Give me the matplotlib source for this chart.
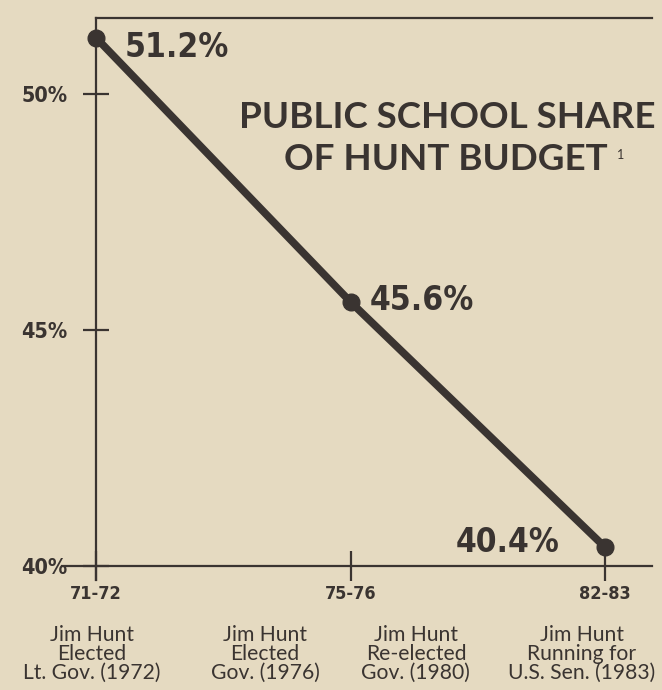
import matplotlib
matplotlib.use("Agg")
import matplotlib.pyplot as plt
import matplotlib.transforms as mtransforms

periods = ["71-72", "75-76", "82-83"]
share = [51.2, 45.6, 40.4]
share_labels = ["51.2%", "45.6%", "40.4%"]
y_ticks = [40, 45, 50]
y_tick_labels = ["40%", "45%", "50%"]
events = [
    "Jim Hunt\nElected\nLt. Gov. (1972)",
    "Jim Hunt\nElected\nGov. (1976)",
    "Jim Hunt\nRe-elected\nGov. (1980)",
    "Jim Hunt\nRunning for\nU.S. Sen. (1983)",
]
event_x = [-0.016, 0.664, 1.257, 1.91]

paper = "#e5dac1"
ink = "#3a3431"
narrow = dict(fontfamily="DejaVu Sans", fontstretch="condensed", fontweight="bold")
body = ["Lato", "DejaVu Sans"]

fig = plt.figure(figsize=(6.62, 6.90), dpi=100, facecolor=paper)
ax = fig.add_axes([62 / 662, 1 - 566 / 690, 590 / 662, 548 / 690])
ax.set_facecolor(paper)

x = list(range(len(periods)))
ax.plot(x, share, color=ink, lw=5.5, marker="o", ms=12, solid_capstyle="round",
        clip_on=False, zorder=3)

ax.set_xlim(-0.134, 2.185)
ax.set_ylim(40, 51.62)

for s in ["top", "bottom", "left"]:
    ax.spines[s].set_color(ink)
    ax.spines[s].set_linewidth(1.6)
ax.spines["right"].set_visible(False)
ax.spines["left"].set_position(("data", 0))
ax.spines["left"].set_bounds(39.7, 51.62)
ax.spines["top"].set_bounds(0, 2.185)

ax.set_yticks(y_ticks)
ax.set_yticklabels(y_tick_labels, fontsize=15.5, color=ink, **narrow)
ax.tick_params(axis="y", direction="inout", length=19, width=1.6, color=ink,
               pad=11)

ax.set_xticks(x)
ax.set_xticklabels(periods, fontsize=13, color=ink, **narrow)
ax.tick_params(axis="x", direction="inout", length=22, width=1.6, color=ink,
               pad=3)

# value labels
label_pos = [(0.114, 51.0, "left"), (1.077, 45.62, "left"), (1.823, 40.49, "right")]
for (lx, ly, ha), t in zip(label_pos, share_labels):
    ax.text(lx, ly, t, ha=ha, va="center", fontsize=24, color=ink, **narrow)

# title
ax.text(1.379, 49.5, "PUBLIC SCHOOL SHARE", ha="center", va="center",
        fontfamily=body, fontweight="bold", fontsize=26.5, color=ink)
ax.text(1.375, 48.61, "OF HUNT BUDGET", ha="center", va="center",
        fontfamily=body, fontweight="bold", fontsize=26.5, color=ink)
ax.text(2.06, 48.72, "1", ha="center", va="center", fontfamily=body,
        fontsize=9, color=ink)

# event captions under the axis
cap_tr = mtransforms.blended_transform_factory(ax.transData, fig.transFigure)
for ex, ev in zip(event_x, events):
    ax.text(ex, 1 - 625 / 690, ev, ha="center", va="top", fontfamily=body,
            fontsize=15.2, color=ink, linespacing=0.92, transform=cap_tr)

fig.savefig("out.png", dpi=100, facecolor=paper)
